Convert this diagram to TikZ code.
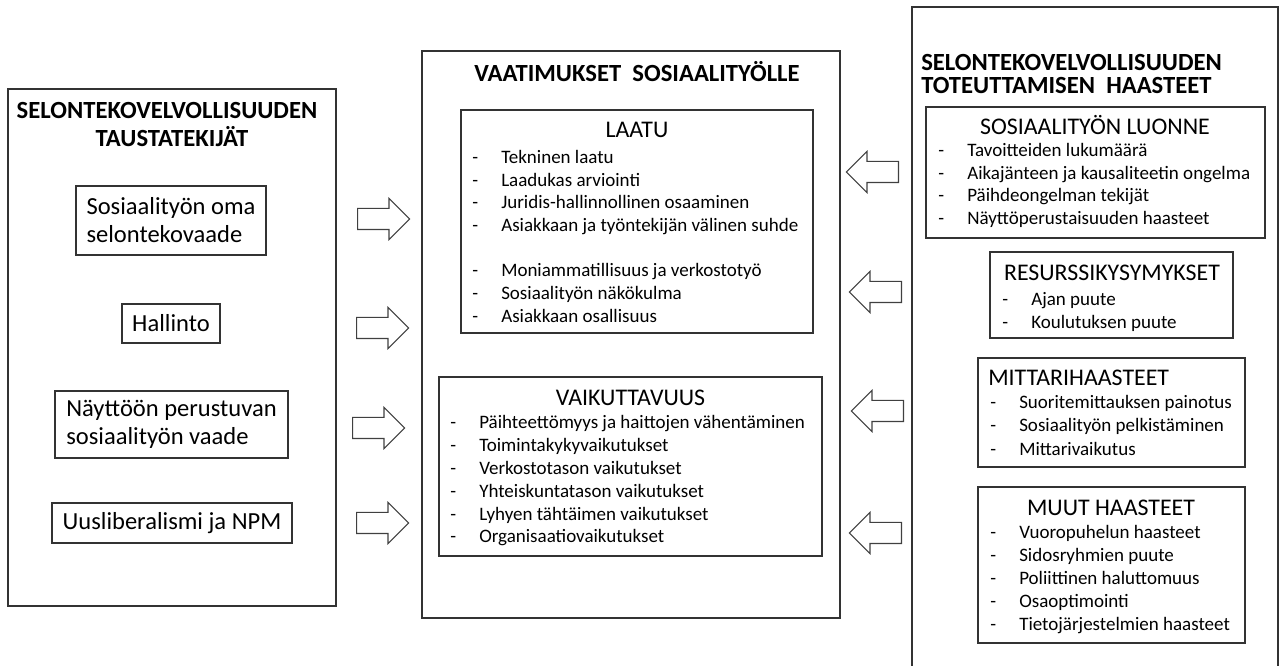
\documentclass[tikz,border=0pt]{standalone}
\usepackage{fontspec}
\setmainfont{Carlito}
\usetikzlibrary{shapes.arrows}

% viiva ja teksti
\newcommand\viiva[1]{\makebox[21.75pt][l]{-}#1}

\tikzset{
  laatikko/.style={draw=black!80, line width=0.9pt},
  otsikko/.style={font=\fontsize{18.5}{21}\selectfont\bfseries, inner sep=0pt, anchor=base},
  alaotsikko/.style={font=\fontsize{17.9}{21}\selectfont, inner sep=0pt, anchor=base},
  kohta/.style={font=\fontsize{14.25}{17}\selectfont, inner sep=0pt, anchor=base west},
  tekija/.style={laatikko, font=\fontsize{18.4}{21}\selectfont, align=left, inner sep=0pt},
  nuoli/.style={single arrow, draw=black!75, line width=0.8pt, minimum height=39pt,
    inner sep=7.5pt, single arrow head extend=7.5pt, single arrow tip angle=90,
    single arrow head indent=0pt}
}

\begin{document}
\begin{tikzpicture}[x=0.75pt,y=-0.75pt]

\useasboundingbox (0,0) rectangle (1279,666);

%%%%%%%%%%%%%%%%%%%%%%%%
% Vasen: taustatekijat
%%%%%%%%%%%%%%%%%%%%%%%%
\draw[laatikko] (8,89) rectangle (336,606);
\node[otsikko] (tausta-1) at (167,118.5) {SELONTEKOVELVOLLISUUDEN};
\node[otsikko] (tausta-2) at (172,146.5) {TAUSTATEKIJÄT};

\node[tekija, minimum width=142.5pt, minimum height=51.75pt] (oma) at (171,220.5) {Sosiaalityön oma\\selontekovaade};
\node[tekija, minimum width=73.5pt, minimum height=29.25pt] (hallinto) at (171,323.5) {Hallinto};
\node[tekija, minimum width=174.75pt, minimum height=50.25pt] (naytto) at (171.5,424.5) {Näyttöön perustuvan\\sosiaalityön vaade};
\node[tekija, minimum width=180pt, minimum height=30pt] (npm) at (172,523) {Uusliberalismi ja NPM};

% nuolet oikealle
\foreach \x/\y [count=\i] in {357/219,356/328,352/428,356/523}
  \node[nuoli, anchor=tail] (oik-\i) at (\x,\y) {};

%%%%%%%%%%%%%%%%%%%%%%%%
% Keski: vaatimukset
%%%%%%%%%%%%%%%%%%%%%%%%
\draw[laatikko] (422,51) rectangle (840,618);
\node[otsikko] (vaatimukset) at (637,81.5) {VAATIMUKSET\ \ SOSIAALITYÖLLE};

% laatu
\draw[laatikko] (461,110) rectangle (813,333);
\node[alaotsikko] (laatu) at (637,138) {LAATU};
\foreach \r/\t in {0/Tekninen laatu,1/Laadukas arviointi,2/Juridis-hallinnollinen osaaminen,
    3/Asiakkaan ja työntekijän välinen suhde,5/Moniammatillisuus ja verkostotyö,
    6/Sosiaalityön näkökulma,7/Asiakkaan osallisuus}
  \node[kohta] (laatu-\r) at (472,163.5+\r*22.7) {\viiva{\t}};

% vaikuttavuus
\draw[laatikko] (439,377) rectangle (822,556);
\node[alaotsikko] (vaik) at (630.5,406) {VAIKUTTAVUUS};
\foreach \t [count=\r from 0] in {Päihteettömyys ja haittojen vähentäminen,Toimintakykyvaikutukset,
    Verkostotason vaikutukset,Yhteiskuntatason vaikutukset,Lyhyen tähtäimen vaikutukset,
    Organisaatiovaikutukset}
  \node[kohta] (vaik-\r) at (450,428.5+\r*22.9) {\viiva{\t}};

%%%%%%%%%%%%%%%%%%%%%%%%
% Oikea: haasteet
%%%%%%%%%%%%%%%%%%%%%%%%
\draw[laatikko] (912,666) |- (1278,7) -- (1278,666);
\node[otsikko, anchor=base west] (haasteet-1) at (921,70.5) {SELONTEKOVELVOLLISUUDEN};
\node[otsikko, anchor=base west] (haasteet-2) at (921,93.5) {TOTEUTTAMISEN\ \ HAASTEET};

% luonne
\draw[laatikko] (926,107) rectangle (1265,238);
\node[alaotsikko] (luonne) at (1095,135) {SOSIAALITYÖN LUONNE};
\foreach \t [count=\r from 0] in {Tavoitteiden lukumäärä,Aikajänteen ja kausaliteetin ongelma,
    Päihdeongelman tekijät,Näyttöperustaisuuden haasteet}
  \node[kohta] (luonne-\r) at (938,157+\r*22.5) {\viiva{\t}};

% resurssit
\draw[laatikko] (990,252) rectangle (1233,338);
\node[alaotsikko] (resurssi) at (1112,281) {RESURSSIKYSYMYKSET};
\foreach \t [count=\r from 0] in {Ajan puute,Koulutuksen puute}
  \node[kohta] (resurssi-\r) at (1002,305.5+\r*23) {\viiva{\t}};

% mittarit
\draw[laatikko] (978,358) rectangle (1245,467);
\node[alaotsikko, anchor=base west] (mittari) at (988,386) {MITTARIHAASTEET};
\foreach \t [count=\r from 0] in {Suoritemittauksen painotus,Sosiaalityön pelkistäminen,Mittarivaikutus}
  \node[kohta] (mittari-\r) at (990,408.5+\r*23.5) {\viiva{\t}};

% muut
\draw[laatikko] (978,487) rectangle (1245,643);
\node[alaotsikko] (muut) at (1111,516) {MUUT HAASTEET};
\foreach \t [count=\r from 0] in {Vuoropuhelun haasteet,Sidosryhmien puute,Poliittinen haluttomuus,
    Osaoptimointi,Tietojärjestelmien haasteet}
  \node[kohta] (muut-\r) at (990,538.5+\r*23) {\viiva{\t}};

% nuolet vasemmalle
\foreach \x/\y [count=\i] in {899/172,902/292,904/411,902/533}
  \node[nuoli, shape border rotate=180, anchor=tail] (vas-\i) at (\x,\y) {};

\end{tikzpicture}
\end{document}
